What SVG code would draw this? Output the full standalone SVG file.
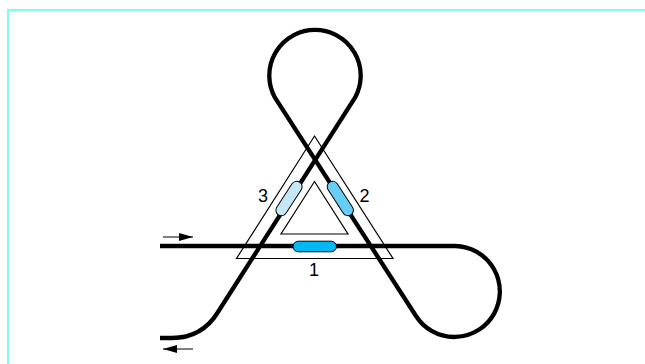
<svg xmlns="http://www.w3.org/2000/svg" width="645" height="364" viewBox="0 0 645 364">
<defs>
<marker id="ah" markerUnits="userSpaceOnUse" markerWidth="14" markerHeight="8" refX="14" refY="4" orient="auto"><path d="M0 0L14 4L0 8Z" fill="#000"/></marker>
<style>
.fiber{fill:none;stroke:#000;stroke-width:4.3}
.tri{fill:none;stroke:#000;stroke-width:1.2}
.arrow{fill:none;stroke:#000;stroke-width:1;marker-end:url(#ah)}
.coupler{stroke:#000;stroke-width:1}
.lbl{font-family:"Liberation Sans",Arial,sans-serif;font-size:18px;fill:#000;text-anchor:middle}
</style>
</defs>
<rect width="645" height="364" fill="#fff"/>
<path d="M8 364V10H645" fill="none" stroke="#7ffcf4" stroke-width="2"/>
<g id="triangles">
<path class="tri" d="M314.5 136L393 258.500H236.500Z"/>
<path class="tri" d="M314.500 181.500L348 234H281Z"/>
</g>
<g id="connectors">
<path class="fiber" d="M160 246H455.500A45.500 45.500 0 1 1 416 316L275 97.700A45.700 45.700 0 1 1 355 97.700L218 312Q202 338 172 338H160"/>
<path class="arrow" d="M163 237H193"/>
<path class="arrow" d="M193 349H163"/>
</g>
<g id="coupler-1"><rect class="coupler" x="293" y="241.200" width="43.500" height="10.600" rx="5.300" fill="#00b9f2"/></g>
<g id="coupler-2"><rect class="coupler" x="-19.500" y="-5.500" width="39" height="11" rx="5.500" fill="#66cdf5" transform="translate(340.300 198.500) rotate(57)"/></g>
<g id="coupler-3"><rect class="coupler" x="-19.500" y="-5.500" width="39" height="11" rx="5.500" fill="#c5e8f9" transform="translate(289 198.500) rotate(-57)"/></g>
<g id="label-1"><text class="lbl" x="314" y="275.500">1</text></g>
<g id="label-2"><text class="lbl" x="364.500" y="201.500">2</text></g>
<g id="label-3"><text class="lbl" x="263" y="201.500">3</text></g>
</svg>
